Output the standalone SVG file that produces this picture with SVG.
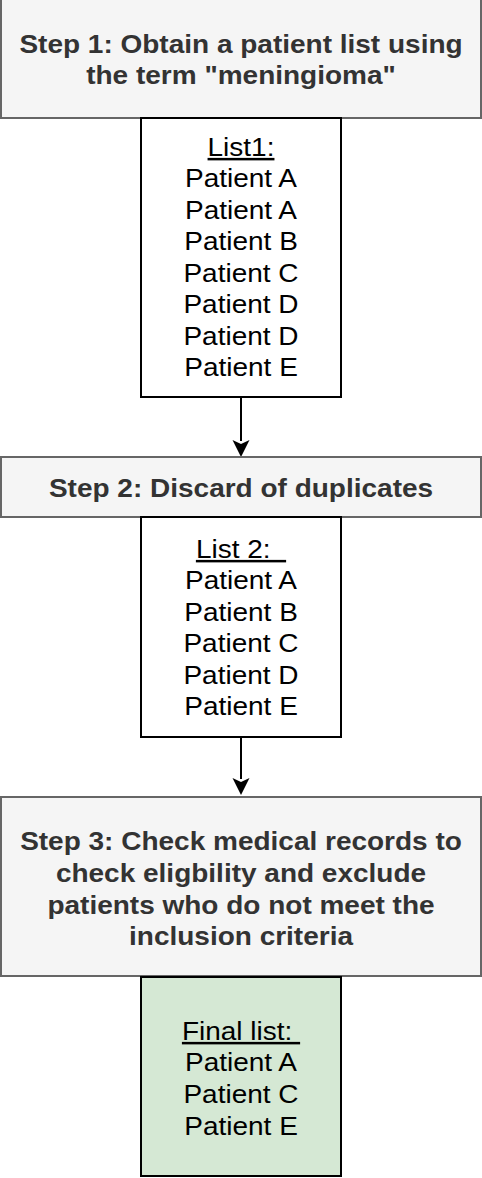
<svg xmlns="http://www.w3.org/2000/svg" width="482" height="1178" viewBox="0 0 482 1178">
<defs>
<style>
.step{fill:#f5f5f5;stroke:#666666;stroke-width:2}
.list{fill:#ffffff;stroke:#000000;stroke-width:2}
.final{fill:#d5e8d4;stroke:#000000;stroke-width:2}
.st{font-family:"Liberation Sans",Arial,sans-serif;font-size:25px;font-weight:bold;fill:#333333;text-anchor:middle}
.lt{font-family:"Liberation Sans",Arial,sans-serif;font-size:25px;fill:#000000;text-anchor:middle}
.u{text-decoration:underline}
.conn{stroke:#000000;stroke-width:2;fill:none}
</style>
<marker id="arr" markerWidth="10" markerHeight="10" refX="9" refY="5" orient="auto" markerUnits="userSpaceOnUse" viewBox="0 0 10 10">
<path d="M0,0 L10,5 L0,10 L3,5 Z" fill="#000000"/>
</marker>
</defs>
<rect width="482" height="1178" fill="#ffffff"/>
<g id="connectors">
<path class="conn" d="M241,397 V441"/>
<path d="M232.5,440 L241,457 L249.5,440 L241,444 Z" fill="#000000"/>
<path class="conn" d="M241,737 V779"/>
<path d="M232.5,778 L241,795 L249.5,778 L241,782 Z" fill="#000000"/>
</g>
<g id="step1">
<rect class="step" x="1" y="-1" width="480" height="119"/>
<text class="st" transform="translate(241,53) scale(1.12,1)">Step 1: Obtain a patient list using</text>
<text class="st" transform="translate(241,84) scale(1.12,1)">the term "meningioma"</text>
</g>
<g id="list1">
<rect class="list" x="141" y="118" width="200" height="279"/>
<text class="lt u" transform="translate(241,156) scale(1.12,1)">List1:</text>
<text class="lt" transform="translate(241,187) scale(1.12,1)">Patient A</text>
<text class="lt" transform="translate(241,218.5) scale(1.12,1)">Patient A</text>
<text class="lt" transform="translate(241,250) scale(1.12,1)">Patient B</text>
<text class="lt" transform="translate(241,281.5) scale(1.12,1)">Patient C</text>
<text class="lt" transform="translate(241,313) scale(1.12,1)">Patient D</text>
<text class="lt" transform="translate(241,344.5) scale(1.12,1)">Patient D</text>
<text class="lt" transform="translate(241,376) scale(1.12,1)">Patient E</text>
</g>
<g id="step2">
<rect class="step" x="1" y="457" width="480" height="60"/>
<text class="st" transform="translate(241,497) scale(1.12,1)">Step 2: Discard of duplicates</text>
</g>
<g id="list2">
<rect class="list" x="141" y="517" width="200" height="220"/>
<text class="lt u" transform="translate(241,558) scale(1.12,1)" xml:space="preserve">List 2:  </text>
<text class="lt" transform="translate(241,589) scale(1.12,1)">Patient A</text>
<text class="lt" transform="translate(241,620.5) scale(1.12,1)">Patient B</text>
<text class="lt" transform="translate(241,652) scale(1.12,1)">Patient C</text>
<text class="lt" transform="translate(241,683.5) scale(1.12,1)">Patient D</text>
<text class="lt" transform="translate(241,715) scale(1.12,1)">Patient E</text>
</g>
<g id="step3">
<rect class="step" x="1" y="797" width="480" height="179"/>
<text class="st" transform="translate(241,850) scale(1.12,1)">Step 3: Check medical records to</text>
<text class="st" transform="translate(241,882) scale(1.12,1)">check eligbility and exclude</text>
<text class="st" transform="translate(241,914) scale(1.12,1)">patients who do not meet the</text>
<text class="st" transform="translate(241,945) scale(1.12,1)">inclusion criteria</text>
</g>
<g id="final">
<rect class="final" x="141" y="977" width="200" height="199"/>
<text class="lt u" transform="translate(241,1040) scale(1.12,1)" xml:space="preserve">Final list: </text>
<text class="lt" transform="translate(241,1071) scale(1.12,1)">Patient A</text>
<text class="lt" transform="translate(241,1103) scale(1.12,1)">Patient C</text>
<text class="lt" transform="translate(241,1135) scale(1.12,1)">Patient E</text>
</g>
</svg>
